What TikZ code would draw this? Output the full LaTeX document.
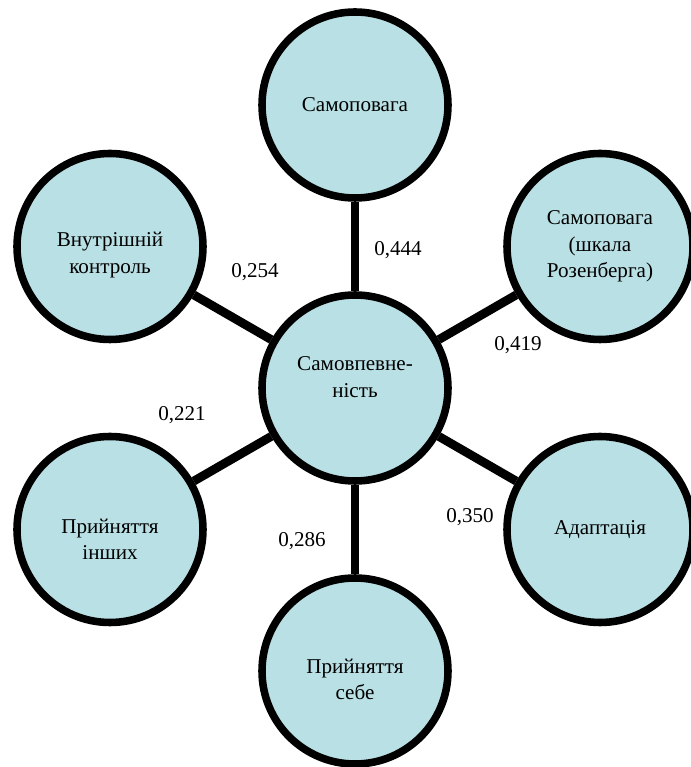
\documentclass[tikz,border=0pt]{standalone}
\usepackage{fontspec}
\setmainfont{Liberation Serif}
\usepackage{tikz}
\usetikzlibrary{positioning}
\usepackage{xcolor}
\definecolor{bubblefill}{RGB}{185,224,228}

\begin{document}
\begin{tikzpicture}[
    every node/.style={font=\rmfamily\fontsize{12}{15}\selectfont},
    bubble/.style={circle,draw,line width=4.3pt,fill=bubblefill,minimum size=3.72cm,align=center,inner sep=0pt},
    link/.style={line width=5pt},
    weight/.style={inner sep=1pt},
]
\useasboundingbox (-7.10,-7.58) rectangle (6.70,7.76);

% Central construct
\node[bubble] (core) at (0,0) {Самовпевне-\\ність\\[-0.2em]};

% Correlated scales, on a hexagon round the centre
\node[bubble] (esteem)  at (0,5.66)     {Самоповага};
\node[bubble] (rosen)   at (4.90,2.83)  {Самоповага\\(шкала\\Розенберга)};
\node[bubble] (adapt)   at (4.90,-2.83) {Адаптація};
\node[bubble] (selfacc) at (0,-5.66)    {\rule{0pt}{1.5em}Прийняття\\себе};
\node[bubble] (othacc)  at (-4.90,-2.83) {\rule{0pt}{1.6em}Прийняття\\інших};
\node[bubble] (control) at (-4.90,2.83) {\rule{0pt}{1.5em}Внутрішній\\контроль};

% Links
\draw[link] (core) -- (esteem);
\draw[link] (core) -- (rosen);
\draw[link] (core) -- (adapt);
\draw[link] (core) -- (selfacc);
\draw[link] (core) -- (othacc);
\draw[link] (core) -- (control);

% Correlation coefficients
\node[weight] (w-esteem)  at (0.86,2.76)   {0,444};
\node[weight] (w-rosen)   at (3.26,0.86)   {0,419};
\node[weight] (w-adapt)   at (2.30,-2.58)  {0,350};
\node[weight] (w-selfacc) at (-1.06,-3.06) {0,286};
\node[weight] (w-othacc)  at (-3.46,-0.54) {0,221};
\node[weight] (w-control) at (-2.00,2.32)  {0,254};
\end{tikzpicture}
\end{document}
